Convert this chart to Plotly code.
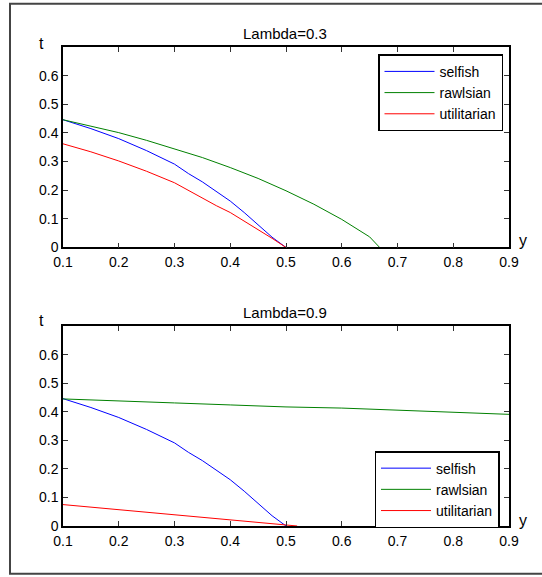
import plotly.graph_objects as go

# ---- data ----
x_selfish = [0.1, 0.15, 0.2, 0.25, 0.3, 0.325, 0.35, 0.375, 0.4, 0.425, 0.45, 0.475, 0.5]
t_selfish = [0.446, 0.415, 0.380, 0.338, 0.291, 0.258, 0.229, 0.195, 0.162, 0.122, 0.080, 0.036, 0.0]

x_rawls_03 = [0.1, 0.15, 0.2, 0.25, 0.3, 0.35, 0.4, 0.45, 0.5, 0.55, 0.6, 0.625, 0.65, 0.668]
t_rawls_03 = [0.446, 0.424, 0.401, 0.374, 0.345, 0.314, 0.279, 0.241, 0.198, 0.151, 0.098, 0.069, 0.037, 0.0]

x_util_03 = [0.1, 0.15, 0.2, 0.25, 0.3, 0.325, 0.35, 0.375, 0.4, 0.425, 0.45, 0.475, 0.5]
t_util_03 = [0.362, 0.334, 0.302, 0.266, 0.226, 0.199, 0.173, 0.146, 0.122, 0.093, 0.063, 0.032, 0.0]

x_rawls_09 = [0.1, 0.2, 0.3, 0.4, 0.5, 0.6, 0.7, 0.8, 0.9]
t_rawls_09 = [0.445, 0.439, 0.431, 0.424, 0.417, 0.413, 0.405, 0.399, 0.391]

x_util_09 = [0.1, 0.15, 0.2, 0.25, 0.3, 0.35, 0.4, 0.45, 0.5, 0.52]
t_util_09 = [0.075, 0.066, 0.058, 0.049, 0.040, 0.031, 0.023, 0.014, 0.003, 0.0]

series_names = ["selfish", "rawlsian", "utilitarian"]
panel_titles = ["Lambda=0.3", "Lambda=0.9"]
x_ticks = [0.1, 0.2, 0.3, 0.4, 0.5, 0.6, 0.7, 0.8, 0.9]
y_ticks = [0, 0.1, 0.2, 0.3, 0.4, 0.5, 0.6]

colors = ["#0000ff", "#008000", "#ff0000"]
FONT = "Liberation Sans, Arial, Helvetica, sans-serif"

# ---- geometry (pixels) ----
W, H = 542, 577
L, R, T, B = 63, 509, 46.7, 526
pw, ph = R - L, B - T


def px(x):
    return (x - L) / pw


def py(y):
    return (B - y) / ph


fig = go.Figure()

top = [(x_selfish, t_selfish), (x_rawls_03, t_rawls_03), (x_util_03, t_util_03)]
bot = [(x_selfish, t_selfish), (x_rawls_09, t_rawls_09), (x_util_09, t_util_09)]

for i, (xs, ys) in enumerate(top):
    fig.add_trace(go.Scatter(x=xs, y=ys, mode="lines", name=series_names[i],
                             line=dict(color=colors[i], width=1),
                             xaxis="x", yaxis="y", legend="legend"))
for i, (xs, ys) in enumerate(bot):
    fig.add_trace(go.Scatter(x=xs, y=ys, mode="lines", name=series_names[i],
                             line=dict(color=colors[i], width=1),
                             xaxis="x2", yaxis="y2", legend="legend2"))

axis_common = dict(showline=True, linecolor="black", linewidth=1.5, mirror="allticks",
                   ticks="inside", ticklen=5, tickwidth=1, tickcolor="#333",
                   showgrid=False, zeroline=False,
                   tickfont=dict(family=FONT, size=14, color="black"))

top_dom = [py(247.3), 1]
bot_dom = [0, py(326)]

legend_common = dict(xanchor="right", yanchor="top",
                     bgcolor="white", bordercolor="black", borderwidth=1.5,
                     font=dict(family=FONT, size=14, color="black"),
                     itemwidth=50, tracegroupgap=0)

fig.update_layout(
    width=W, height=H,
    margin=dict(l=L, r=W - R, t=T, b=H - B, pad=0),
    paper_bgcolor="white", plot_bgcolor="white",
    showlegend=True,
    xaxis=dict(domain=[0, 1], range=[0.1, 0.9], tickvals=x_ticks,
               ticktext=[f"{v:g}" for v in x_ticks], anchor="y",
               ticklabelstandoff=1, **axis_common),
    yaxis=dict(domain=top_dom, range=[0, 0.7], tickvals=y_ticks,
               ticktext=[f"{v:g}" for v in y_ticks], anchor="x", **axis_common),
    xaxis2=dict(domain=[0, 1], range=[0.1, 0.9], tickvals=x_ticks,
                ticktext=[f"{v:g}" for v in x_ticks], anchor="y2",
                ticklabelstandoff=1, **axis_common),
    yaxis2=dict(domain=bot_dom, range=[0, 0.7], tickvals=y_ticks,
                ticktext=[f"{v:g}" for v in y_ticks], anchor="x2", **axis_common),
    legend=dict(x=px(503), y=py(54), **legend_common),
    legend2=dict(x=px(499.5), y=py(451), **legend_common),
)

annots = []
for title, yc in zip(panel_titles, [32.8, 312.5]):
    annots.append(dict(text=title, x=px(285), y=py(yc), xref="paper", yref="paper",
                       showarrow=False, xanchor="center", yanchor="middle",
                       font=dict(family=FONT, size=15, color="black")))
for yc in [42.7, 320.7]:
    annots.append(dict(text="t", x=px(41.7), y=py(yc), xref="paper", yref="paper",
                       showarrow=False, xanchor="center", yanchor="middle",
                       font=dict(family=FONT, size=16, color="black")))
for yc in [240.7, 520.7]:
    annots.append(dict(text="y", x=px(523), y=py(yc), xref="paper", yref="paper",
                       showarrow=False, xanchor="center", yanchor="middle",
                       font=dict(family=FONT, size=16, color="black")))
fig.update_layout(annotations=annots)

# outer figure frame (right edge falls outside the canvas)
fig.add_shape(type="rect", xref="paper", yref="paper",
              x0=px(10), x1=px(560), y0=py(573.7), y1=py(3.3),
              line=dict(color="#444", width=2), fillcolor="rgba(0,0,0,0)", layer="below")

fig.write_html("out.html", config={"displayModeBar": False},
               post_script="document.body.style.margin='0';document.body.style.overflow='hidden';")
